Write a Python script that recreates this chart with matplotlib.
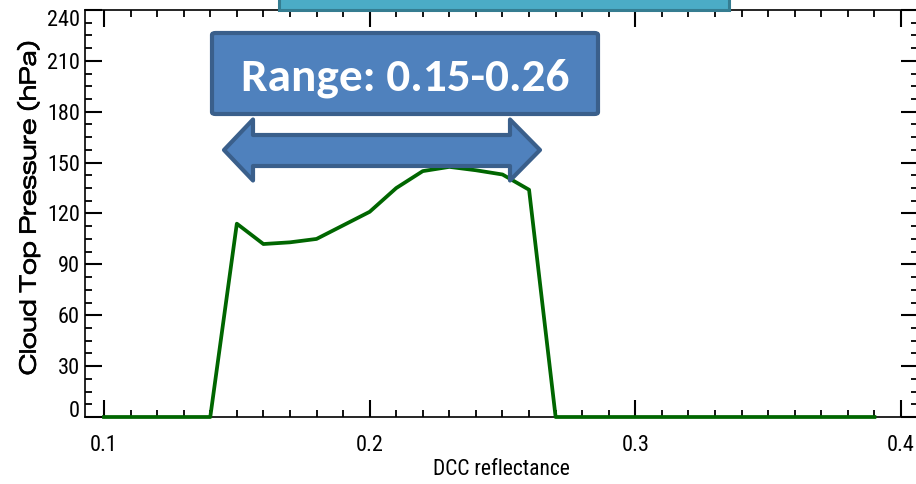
import matplotlib
matplotlib.use("Agg")
import matplotlib.pyplot as plt
import matplotlib.patheffects as pe
from matplotlib.patches import Polygon, FancyBboxPatch, Rectangle
from matplotlib.ticker import MultipleLocator

# ---- data ----
reflectance = [0.10, 0.11, 0.12, 0.13, 0.14, 0.15, 0.16, 0.17, 0.18, 0.19,
               0.20, 0.21, 0.22, 0.23, 0.24, 0.25, 0.26, 0.27, 0.28, 0.29,
               0.30, 0.31, 0.32, 0.33, 0.34, 0.35, 0.36, 0.37, 0.38, 0.39]
cloud_top_pressure = [0, 0, 0, 0, 0, 114, 102, 103, 105, 113,
                      121, 135, 145, 147.5, 145.5, 143, 134, 0, 0, 0,
                      0, 0, 0, 0, 0, 0, 0, 0, 0, 0]
x_ticks = [0.1, 0.2, 0.3, 0.4]
x_tick_labels = ["0.1", "0.2", "0.3", "0.4"]
y_ticks = [0, 30, 60, 90, 120, 150, 180, 210, 240]
y_tick_labels = ["0", "30", "60", "90", "120", "150", "180", "210", "240"]
range_text = "Range: 0.15-0.26"
x_label = "DCC reflectance"
y_label = "Cloud Top Pressure (hPa)"

W, H = 916, 484
fig = plt.figure(figsize=(W / 100, H / 100), dpi=100)

def fx(px):
    return px / W

def fy(py):
    return 1 - py / H

left_px, right_px, top_px, bot_px = 85, 918, 10, 417
ax = fig.add_axes([fx(left_px), fy(bot_px), (right_px - left_px) / W, (bot_px - top_px) / H])

ax.plot(reflectance, cloud_top_pressure, color="#006600", lw=2.7, solid_joinstyle="round",
        clip_on=False, zorder=3)

ax.set_xlim(0.09285, 0.4064)
ax.set_ylim(0, 240)
ax.set_xticks(x_ticks)
ax.set_xticklabels(x_tick_labels)
ax.set_yticks(y_ticks)
ax.set_yticklabels(y_tick_labels)
ax.xaxis.set_minor_locator(MultipleLocator(0.01))
ax.yaxis.set_minor_locator(MultipleLocator(7.5))

tick_font = ["Roboto Condensed", "DejaVu Sans"]
ax.tick_params(which="both", direction="in", top=True, right=True, color="black")
ax.tick_params(which="major", length=12, width=1.5)
ax.tick_params(which="minor", length=5, width=1.3)
ax.tick_params(axis="x", which="major", pad=13)
ax.tick_params(axis="y", which="major", pad=3.6)
for lab in ax.get_xticklabels() + ax.get_yticklabels():
    lab.set_fontfamily(tick_font)
    lab.set_fontsize(16)
ax.yaxis.get_major_ticks()[0].label1.set_verticalalignment("baseline")
ax.yaxis.get_major_ticks()[-1].label1.set_verticalalignment("top")

for s in ax.spines.values():
    s.set_linewidth(1.2)

ax.set_xlabel(x_label, fontfamily=tick_font, fontsize=15.5)
ax.xaxis.set_label_coords(0.4994, -0.128)
ax.xaxis.label.set_verticalalignment("center")

ylab = ax.set_ylabel(y_label, fontfamily=["Zalando Sans Expanded", "Encode Sans Expanded", "DejaVu Sans"],
                     fontweight="medium", fontsize=13.5)
ax.yaxis.set_label_coords((28.5 - left_px) / (right_px - left_px), 1 - (207.5 - top_px) / (bot_px - top_px))
ax.yaxis.label.set_verticalalignment("center")
ylab.set_path_effects([pe.withStroke(linewidth=0.4, foreground="black")])

# fit the y label length to the reference span (~335 px)
fig.canvas.draw()
ext = ylab.get_window_extent()
if ext.height > 0:
    ylab.set_fontsize(13.5 * 335.0 / ext.height)

# ---- annotation shapes (figure pixel coordinates) ----
teal_face, teal_edge = "#4BACC6", "#357D91"
blue_face, blue_edge = "#4F81BD", "#3A5F8B"

teal = Rectangle((fx(279), fy(10)), fx(729) - fx(279), fy(-10) - fy(10),
                 transform=fig.transFigure, facecolor=teal_face, edgecolor=teal_edge,
                 lw=2.2, zorder=5)
fig.patches.append(teal)

box = FancyBboxPatch((fx(212), fy(114)), fx(598) - fx(212), fy(33) - fy(114),
                     boxstyle="round,pad=0,rounding_size=0.004",
                     transform=fig.transFigure, facecolor=blue_face, edgecolor=blue_edge,
                     lw=3.0, zorder=5)
fig.patches.append(box)

arrow_px = [(224, 150), (253, 119.5), (253, 135), (510, 135), (510, 119.5), (540, 150),
            (510, 180.5), (510, 166), (253, 166), (253, 180.5)]
arrow = Polygon([(fx(x), fy(y)) for x, y in arrow_px], closed=True,
                transform=fig.transFigure, facecolor=blue_face, edgecolor=blue_edge,
                lw=3.0, joinstyle="round", zorder=5)
fig.patches.append(arrow)

fig.text(fx(405), fy(91), range_text, ha="center", va="baseline", color="white",
         fontfamily=["Carlito", "Lato"], fontweight="bold", fontsize=34, zorder=6)

fig.savefig("out.png", dpi=100)
